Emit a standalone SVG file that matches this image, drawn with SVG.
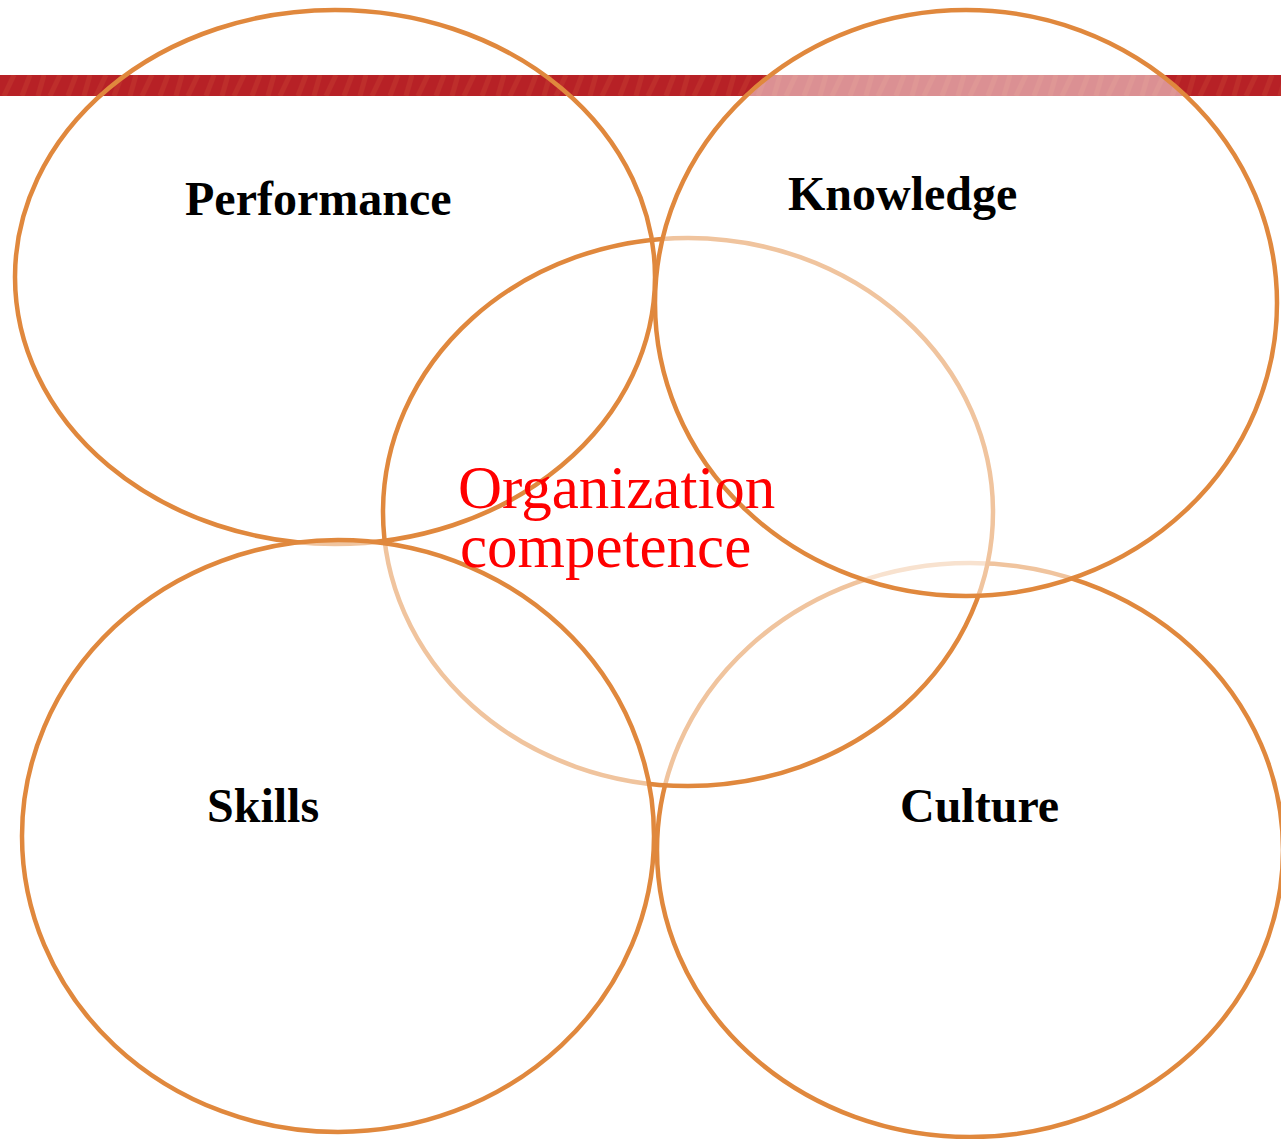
<svg xmlns="http://www.w3.org/2000/svg" width="1281" height="1139" viewBox="0 0 1281 1139">
  <defs>
    <!-- faint diagonal grain on the header band -->
    <pattern id="grain" patternUnits="userSpaceOnUse" width="46" height="21" x="0" y="75">
      <rect width="46" height="21" fill="#b72126"/>
      <path d="M4 21 L14 0 M22 21 L30 0 M38 21 L44 0" stroke="#c2382e" stroke-width="5" opacity="0.55"/>
    </pattern>
    <style>
      .ring { stroke: #e0883d; stroke-width: 4.5; }
      .veil { fill: #ffffff; fill-opacity: 0.5; }
      .hollow { fill: none; }
      .label { font-family: "Liberation Serif", "Times New Roman", serif; font-weight: bold; font-size: 48px; fill: #000000; }
      .core { font-family: "Liberation Serif", "Times New Roman", serif; font-size: 61px; fill: #ff0000; }
    </style>
  </defs>

  <rect width="1281" height="1139" fill="#ffffff"/>

  <!-- header band -->
  <rect id="band" x="0" y="75" width="1281" height="21" fill="url(#grain)"/>

  <!-- circles, back to front -->
  <g id="culture">
    <ellipse class="ring veil" cx="970" cy="850" rx="313" ry="287"/>
    <text class="label" x="900" y="822">Culture</text>
  </g>
  <g id="organization-competence">
    <ellipse class="ring veil" cx="688" cy="512" rx="305" ry="274"/>
  </g>
  <g id="performance">
    <ellipse class="ring hollow" cx="335" cy="277" rx="320" ry="267"/>
    <text class="label" x="185" y="215">Performance</text>
  </g>
  <g id="skills">
    <ellipse class="ring veil" cx="338" cy="836" rx="316" ry="296"/>
    <text class="label" x="207" y="822">Skills</text>
  </g>
  <g id="knowledge">
    <ellipse class="ring veil" cx="966" cy="303" rx="311" ry="293"/>
    <text class="label" x="788" y="210">Knowledge</text>
  </g>

  <!-- centre caption on top of every circle -->
  <g id="organization-competence-label">
    <text class="core" x="458" y="508">Organization</text>
    <text class="core" x="460" y="567">competence</text>
  </g>

  <!-- no connectors in this figure -->
  <g id="connectors"/>
</svg>
